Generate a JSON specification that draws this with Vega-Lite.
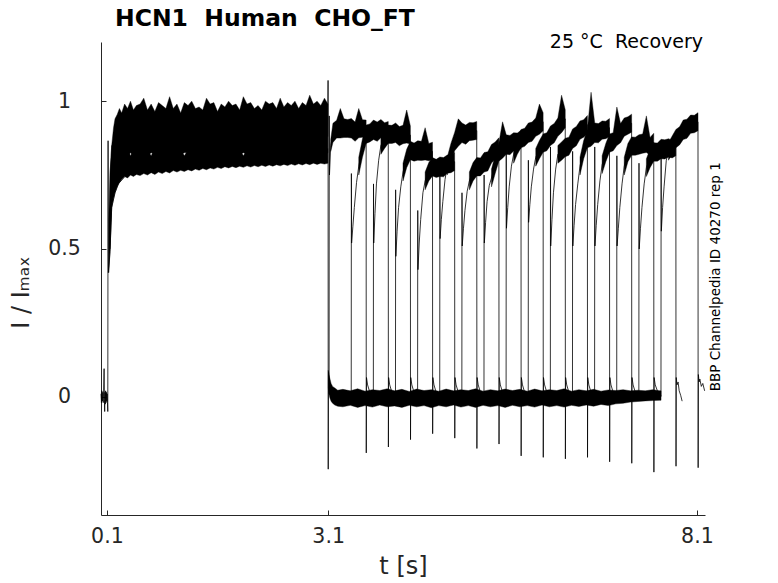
{
"$schema":"https://vega.github.io/schema/vega-lite/v6.json",
"width":604,"height":473,
"autosize":{"type":"none"},
"padding":{"left":101,"top":42,"right":73,"bottom":68},
"background":"white",
"config":{"view":{"stroke":null},"font":"DejaVu Sans"},
"title":{"text":"HCN1\u00a0 Human\u00a0 CHO_FT","anchor":"start","frame":"group","dx":14,"offset":3,"fontSize":23.5,"font":"DejaVu Sans","fontWeight":"bold","color":"black"},
"datasets":{
"lines":[
{"g":"p","t":0.02,"y":0.01},{"g":"p","t":0.026,"y":-0.02},{"g":"p","t":0.032,"y":0.02},{"g":"p","t":0.038,"y":-0.015},{"g":"p","t":0.044,"y":0.015},{"g":"p","t":0.05,"y":-0.02},{"g":"p","t":0.056,"y":0.02},{"g":"p","t":0.062,"y":0.095},{"g":"p","t":0.066,"y":-0.01},{"g":"p","t":0.07,"y":-0.05},{"g":"p","t":0.074,"y":0.015},{"g":"p","t":0.078,"y":-0.025},{"g":"p","t":0.083,"y":0.02},{"g":"p","t":0.088,"y":-0.02},{"g":"p","t":0.093,"y":0.015},{"g":"p","t":0.098,"y":-0.015},{"g":"p","t":0.103,"y":0.01},{"g":"p","t":0.108,"y":-0.02},{"g":"p","t":0.112,"y":-0.05},{"g":"p","t":0.116,"y":0.866},{"g":"p","t":0.12,"y":0.42},{"g":"p","t":0.142,"y":0.49},{"g":"p","t":0.165,"y":0.64},{"g":"p","t":0.21,"y":0.69},{"g":"p","t":0.255,"y":0.72},{"g":"p","t":0.345,"y":0.745},
{"g":"d","t":3.095,"y":0.88},{"g":"d","t":3.099,"y":1.07},{"g":"d","t":3.101,"y":-0.245},{"g":"d","t":3.104,"y":0.085},{"g":"d","t":3.12,"y":0.045},
{"g":"k0","t":3.113,"y":0.01},{"g":"k0","t":3.115,"y":0.95},{"g":"k0","t":3.118,"y":0.75},{"g":"k0","t":3.135,"y":0.85},{"g":"k0","t":3.165,"y":0.89},{"g":"k0","t":3.215,"y":0.905},{"g":"k0","t":3.315,"y":0.905},{"g":"k0","t":3.415,"y":0.905},{"g":"k0","t":3.515,"y":0.905},{"g":"k0","t":3.615,"y":0.905},{"g":"k0","t":3.617,"y":-0.19},{"g":"k0","t":3.62,"y":0.065},{"g":"k0","t":3.635,"y":0.04},{"g":"k0","t":3.665,"y":0.015},{"g":"k0","t":3.715,"y":0},
{"g":"k1","t":3.413,"y":0},{"g":"k1","t":3.415,"y":0.755},{"g":"k1","t":3.418,"y":0.52},{"g":"k1","t":3.435,"y":0.575},{"g":"k1","t":3.455,"y":0.64},{"g":"k1","t":3.485,"y":0.725},{"g":"k1","t":3.515,"y":0.78},{"g":"k1","t":3.565,"y":0.845},{"g":"k1","t":3.615,"y":0.885},{"g":"k1","t":3.715,"y":0.9},{"g":"k1","t":3.815,"y":0.905},{"g":"k1","t":3.915,"y":0.9},{"g":"k1","t":3.917,"y":-0.17},{"g":"k1","t":3.92,"y":0.065},{"g":"k1","t":3.935,"y":0.04},{"g":"k1","t":3.965,"y":0.015},{"g":"k1","t":4.015,"y":0},
{"g":"k2","t":3.713,"y":0},{"g":"k2","t":3.715,"y":0.72},{"g":"k2","t":3.718,"y":0.52},{"g":"k2","t":3.735,"y":0.62},{"g":"k2","t":3.755,"y":0.72},{"g":"k2","t":3.785,"y":0.8},{"g":"k2","t":3.815,"y":0.85},{"g":"k2","t":3.865,"y":0.875},{"g":"k2","t":3.915,"y":0.885},{"g":"k2","t":4.015,"y":0.89},{"g":"k2","t":4.115,"y":0.885},{"g":"k2","t":4.215,"y":0.885},{"g":"k2","t":4.217,"y":-0.145},{"g":"k2","t":4.22,"y":0.065},{"g":"k2","t":4.235,"y":0.04},{"g":"k2","t":4.265,"y":0.015},{"g":"k2","t":4.315,"y":0},
{"g":"k3","t":4.013,"y":0},{"g":"k3","t":4.015,"y":0.7},{"g":"k3","t":4.018,"y":0.475},{"g":"k3","t":4.035,"y":0.56},{"g":"k3","t":4.055,"y":0.64},{"g":"k3","t":4.085,"y":0.71},{"g":"k3","t":4.115,"y":0.76},{"g":"k3","t":4.165,"y":0.81},{"g":"k3","t":4.215,"y":0.83},{"g":"k3","t":4.315,"y":0.83},{"g":"k3","t":4.415,"y":0.83},{"g":"k3","t":4.515,"y":0.83},{"g":"k3","t":4.517,"y":-0.125},{"g":"k3","t":4.52,"y":0.065},{"g":"k3","t":4.535,"y":0.04},{"g":"k3","t":4.565,"y":0.015},{"g":"k3","t":4.615,"y":0},
{"g":"k4","t":4.313,"y":0},{"g":"k4","t":4.315,"y":0.63},{"g":"k4","t":4.318,"y":0.43},{"g":"k4","t":4.335,"y":0.52},{"g":"k4","t":4.355,"y":0.6},{"g":"k4","t":4.385,"y":0.69},{"g":"k4","t":4.415,"y":0.73},{"g":"k4","t":4.465,"y":0.765},{"g":"k4","t":4.515,"y":0.775},{"g":"k4","t":4.615,"y":0.775},{"g":"k4","t":4.715,"y":0.785},{"g":"k4","t":4.815,"y":0.795},{"g":"k4","t":4.817,"y":-0.14},{"g":"k4","t":4.82,"y":0.065},{"g":"k4","t":4.835,"y":0.04},{"g":"k4","t":4.865,"y":0.015},{"g":"k4","t":4.915,"y":0},
{"g":"k5","t":4.613,"y":0},{"g":"k5","t":4.615,"y":0.76},{"g":"k5","t":4.618,"y":0.535},{"g":"k5","t":4.635,"y":0.6},{"g":"k5","t":4.655,"y":0.66},{"g":"k5","t":4.685,"y":0.735},{"g":"k5","t":4.715,"y":0.78},{"g":"k5","t":4.765,"y":0.83},{"g":"k5","t":4.815,"y":0.86},{"g":"k5","t":4.915,"y":0.89},{"g":"k5","t":5.015,"y":0.895},{"g":"k5","t":5.115,"y":0.9},{"g":"k5","t":5.117,"y":-0.175},{"g":"k5","t":5.12,"y":0.065},{"g":"k5","t":5.135,"y":0.04},{"g":"k5","t":5.165,"y":0.015},{"g":"k5","t":5.215,"y":0},
{"g":"k6","t":4.913,"y":0},{"g":"k6","t":4.915,"y":0.69},{"g":"k6","t":4.918,"y":0.51},{"g":"k6","t":4.935,"y":0.57},{"g":"k6","t":4.955,"y":0.63},{"g":"k6","t":4.985,"y":0.695},{"g":"k6","t":5.015,"y":0.73},{"g":"k6","t":5.065,"y":0.765},{"g":"k6","t":5.115,"y":0.775},{"g":"k6","t":5.215,"y":0.79},{"g":"k6","t":5.315,"y":0.82},{"g":"k6","t":5.415,"y":0.845},{"g":"k6","t":5.417,"y":-0.16},{"g":"k6","t":5.42,"y":0.065},{"g":"k6","t":5.435,"y":0.04},{"g":"k6","t":5.465,"y":0.015},{"g":"k6","t":5.515,"y":0},
{"g":"k7","t":5.213,"y":0},{"g":"k7","t":5.215,"y":0.75},{"g":"k7","t":5.218,"y":0.52},{"g":"k7","t":5.235,"y":0.59},{"g":"k7","t":5.255,"y":0.66},{"g":"k7","t":5.285,"y":0.715},{"g":"k7","t":5.315,"y":0.74},{"g":"k7","t":5.365,"y":0.79},{"g":"k7","t":5.415,"y":0.825},{"g":"k7","t":5.515,"y":0.85},{"g":"k7","t":5.615,"y":0.86},{"g":"k7","t":5.715,"y":0.87},{"g":"k7","t":5.717,"y":-0.2},{"g":"k7","t":5.72,"y":0.065},{"g":"k7","t":5.735,"y":0.04},{"g":"k7","t":5.765,"y":0.015},{"g":"k7","t":5.815,"y":0},
{"g":"k8","t":5.513,"y":0},{"g":"k8","t":5.515,"y":0.83},{"g":"k8","t":5.518,"y":0.57},{"g":"k8","t":5.535,"y":0.64},{"g":"k8","t":5.555,"y":0.71},{"g":"k8","t":5.585,"y":0.78},{"g":"k8","t":5.615,"y":0.82},{"g":"k8","t":5.665,"y":0.855},{"g":"k8","t":5.715,"y":0.87},{"g":"k8","t":5.815,"y":0.89},{"g":"k8","t":5.915,"y":0.91},{"g":"k8","t":6.015,"y":0.93},{"g":"k8","t":6.017,"y":-0.205},{"g":"k8","t":6.02,"y":0.065},{"g":"k8","t":6.035,"y":0.04},{"g":"k8","t":6.065,"y":0.015},{"g":"k8","t":6.115,"y":0},
{"g":"k9","t":5.813,"y":0},{"g":"k9","t":5.815,"y":0.8},{"g":"k9","t":5.818,"y":0.59},{"g":"k9","t":5.835,"y":0.65},{"g":"k9","t":5.855,"y":0.71},{"g":"k9","t":5.885,"y":0.77},{"g":"k9","t":5.915,"y":0.81},{"g":"k9","t":5.965,"y":0.84},{"g":"k9","t":6.015,"y":0.855},{"g":"k9","t":6.115,"y":0.88},{"g":"k9","t":6.215,"y":0.91},{"g":"k9","t":6.315,"y":0.94},{"g":"k9","t":6.317,"y":-0.21},{"g":"k9","t":6.32,"y":0.065},{"g":"k9","t":6.335,"y":0.04},{"g":"k9","t":6.365,"y":0.015},{"g":"k9","t":6.415,"y":0},
{"g":"k10","t":6.113,"y":0},{"g":"k10","t":6.115,"y":0.845},{"g":"k10","t":6.118,"y":0.51},{"g":"k10","t":6.135,"y":0.6},{"g":"k10","t":6.155,"y":0.69},{"g":"k10","t":6.185,"y":0.77},{"g":"k10","t":6.215,"y":0.82},{"g":"k10","t":6.265,"y":0.835},{"g":"k10","t":6.315,"y":0.84},{"g":"k10","t":6.415,"y":0.87},{"g":"k10","t":6.515,"y":0.9},{"g":"k10","t":6.615,"y":0.92},{"g":"k10","t":6.617,"y":-0.205},{"g":"k10","t":6.62,"y":0.065},{"g":"k10","t":6.635,"y":0.04},{"g":"k10","t":6.665,"y":0.015},{"g":"k10","t":6.715,"y":0},
{"g":"k11","t":6.413,"y":0},{"g":"k11","t":6.415,"y":0.83},{"g":"k11","t":6.418,"y":0.51},{"g":"k11","t":6.435,"y":0.58},{"g":"k11","t":6.455,"y":0.65},{"g":"k11","t":6.485,"y":0.72},{"g":"k11","t":6.515,"y":0.78},{"g":"k11","t":6.565,"y":0.84},{"g":"k11","t":6.615,"y":0.87},{"g":"k11","t":6.715,"y":0.89},{"g":"k11","t":6.815,"y":0.9},{"g":"k11","t":6.915,"y":0.91},{"g":"k11","t":6.917,"y":-0.22},{"g":"k11","t":6.92,"y":0.065},{"g":"k11","t":6.935,"y":0.04},{"g":"k11","t":6.965,"y":0.015},{"g":"k11","t":7.015,"y":0},
{"g":"k12","t":6.713,"y":0},{"g":"k12","t":6.715,"y":0.845},{"g":"k12","t":6.718,"y":0.51},{"g":"k12","t":6.735,"y":0.58},{"g":"k12","t":6.755,"y":0.65},{"g":"k12","t":6.785,"y":0.73},{"g":"k12","t":6.815,"y":0.785},{"g":"k12","t":6.865,"y":0.83},{"g":"k12","t":6.915,"y":0.855},{"g":"k12","t":7.015,"y":0.88},{"g":"k12","t":7.115,"y":0.91},{"g":"k12","t":7.215,"y":0.925},{"g":"k12","t":7.217,"y":-0.225},{"g":"k12","t":7.22,"y":0.065},{"g":"k12","t":7.235,"y":0.04},{"g":"k12","t":7.265,"y":0.015},{"g":"k12","t":7.315,"y":0},
{"g":"k13","t":7.013,"y":0},{"g":"k13","t":7.015,"y":0.815},{"g":"k13","t":7.018,"y":0.51},{"g":"k13","t":7.035,"y":0.57},{"g":"k13","t":7.055,"y":0.64},{"g":"k13","t":7.085,"y":0.72},{"g":"k13","t":7.115,"y":0.78},{"g":"k13","t":7.165,"y":0.83},{"g":"k13","t":7.215,"y":0.845},{"g":"k13","t":7.315,"y":0.85},{"g":"k13","t":7.415,"y":0.855},{"g":"k13","t":7.515,"y":0.86},{"g":"k13","t":7.517,"y":-0.255},{"g":"k13","t":7.52,"y":0.065},{"g":"k13","t":7.535,"y":0.04},{"g":"k13","t":7.565,"y":0.02},{"g":"k13","t":7.615,"y":0.005},
{"g":"k14","t":7.313,"y":0},{"g":"k14","t":7.315,"y":0.79},{"g":"k14","t":7.318,"y":0.5},{"g":"k14","t":7.335,"y":0.57},{"g":"k14","t":7.355,"y":0.64},{"g":"k14","t":7.385,"y":0.72},{"g":"k14","t":7.415,"y":0.775},{"g":"k14","t":7.465,"y":0.81},{"g":"k14","t":7.515,"y":0.825},{"g":"k14","t":7.615,"y":0.835},{"g":"k14","t":7.715,"y":0.84},{"g":"k14","t":7.815,"y":0.845},{"g":"k14","t":7.817,"y":-0.235},{"g":"k14","t":7.82,"y":0.065},{"g":"k14","t":7.83,"y":0.04},{"g":"k14","t":7.845,"y":0.05},{"g":"k14","t":7.86,"y":0.02},{"g":"k14","t":7.88,"y":0.005},{"g":"k14","t":7.9,"y":-0.015},
{"g":"k15","t":7.613,"y":0},{"g":"k15","t":7.615,"y":0.83},{"g":"k15","t":7.618,"y":0.56},{"g":"k15","t":7.635,"y":0.64},{"g":"k15","t":7.655,"y":0.71},{"g":"k15","t":7.685,"y":0.8},{"g":"k15","t":7.715,"y":0.83},{"g":"k15","t":7.765,"y":0.855},{"g":"k15","t":7.815,"y":0.87},{"g":"k15","t":7.915,"y":0.9},{"g":"k15","t":8.015,"y":0.92},{"g":"k15","t":8.115,"y":0.93},{"g":"k15","t":8.117,"y":-0.24},{"g":"k15","t":8.12,"y":0.075},{"g":"k15","t":8.13,"y":0.05},{"g":"k15","t":8.14,"y":0.06},{"g":"k15","t":8.16,"y":0.035},{"g":"k15","t":8.18,"y":0.045},{"g":"k15","t":8.205,"y":0.02}
],
"areas":[
{"g":"A1","t":0.125,"y":0.42,"y2":0.6},{"g":"A1","t":0.142,"y":0.49,"y2":0.75},{"g":"A1","t":0.165,"y":0.64,"y2":0.85},{"g":"A1","t":0.19,"y":0.67,"y2":0.84},{"g":"A1","t":0.21,"y":0.69,"y2":0.835},{"g":"A1","t":0.24,"y":0.71,"y2":0.84},{"g":"A1","t":0.27,"y":0.725,"y2":0.83},{"g":"A1","t":0.3,"y":0.735,"y2":0.84},{"g":"A1","t":0.34,"y":0.745,"y2":0.835},{"g":"A1","t":0.38,"y":0.74,"y2":0.84},{"g":"A1","t":0.42,"y":0.75,"y2":0.815},{"g":"A1","t":0.46,"y":0.745,"y2":0.835},{"g":"A1","t":0.5,"y":0.752,"y2":0.84},{"g":"A1","t":0.55,"y":0.748,"y2":0.83},{"g":"A1","t":0.6,"y":0.755,"y2":0.84},{"g":"A1","t":0.65,"y":0.75,"y2":0.835},{"g":"A1","t":0.7,"y":0.758,"y2":0.815},{"g":"A1","t":0.75,"y":0.752,"y2":0.84},{"g":"A1","t":0.8,"y":0.76,"y2":0.835},{"g":"A1","t":0.85,"y":0.755,"y2":0.84},{"g":"A1","t":0.9,"y":0.762,"y2":0.835},{"g":"A1","t":0.95,"y":0.757,"y2":0.835},{"g":"A1","t":1.0,"y":0.765,"y2":0.84},{"g":"A1","t":1.05,"y":0.76,"y2":0.83},{"g":"A1","t":1.1,"y":0.766,"y2":0.84},{"g":"A1","t":1.15,"y":0.762,"y2":0.815},{"g":"A1","t":1.2,"y":0.768,"y2":0.835},{"g":"A1","t":1.25,"y":0.764,"y2":0.84},{"g":"A1","t":1.3,"y":0.77,"y2":0.83},{"g":"A1","t":1.35,"y":0.766,"y2":0.84},{"g":"A1","t":1.4,"y":0.772,"y2":0.835},{"g":"A1","t":1.45,"y":0.768,"y2":0.835},{"g":"A1","t":1.5,"y":0.774,"y2":0.84},{"g":"A1","t":1.55,"y":0.77,"y2":0.835},{"g":"A1","t":1.6,"y":0.776,"y2":0.84},{"g":"A1","t":1.65,"y":0.772,"y2":0.83},{"g":"A1","t":1.7,"y":0.778,"y2":0.84},{"g":"A1","t":1.75,"y":0.774,"y2":0.835},{"g":"A1","t":1.8,"y":0.779,"y2":0.84},{"g":"A1","t":1.85,"y":0.775,"y2":0.83},{"g":"A1","t":1.9,"y":0.78,"y2":0.84},{"g":"A1","t":1.95,"y":0.776,"y2":0.815},{"g":"A1","t":2.0,"y":0.781,"y2":0.835},{"g":"A1","t":2.05,"y":0.777,"y2":0.84},{"g":"A1","t":2.1,"y":0.782,"y2":0.83},{"g":"A1","t":2.15,"y":0.778,"y2":0.84},{"g":"A1","t":2.2,"y":0.783,"y2":0.835},{"g":"A1","t":2.25,"y":0.779,"y2":0.84},{"g":"A1","t":2.3,"y":0.784,"y2":0.83},{"g":"A1","t":2.35,"y":0.78,"y2":0.84},{"g":"A1","t":2.4,"y":0.785,"y2":0.84},{"g":"A1","t":2.45,"y":0.781,"y2":0.835},{"g":"A1","t":2.5,"y":0.786,"y2":0.84},{"g":"A1","t":2.55,"y":0.782,"y2":0.83},{"g":"A1","t":2.6,"y":0.787,"y2":0.84},{"g":"A1","t":2.65,"y":0.783,"y2":0.835},{"g":"A1","t":2.7,"y":0.788,"y2":0.84},{"g":"A1","t":2.75,"y":0.784,"y2":0.83},{"g":"A1","t":2.8,"y":0.789,"y2":0.84},{"g":"A1","t":2.85,"y":0.785,"y2":0.835},{"g":"A1","t":2.9,"y":0.79,"y2":0.84},{"g":"A1","t":2.95,"y":0.786,"y2":0.83},{"g":"A1","t":3.0,"y":0.79,"y2":0.84},{"g":"A1","t":3.05,"y":0.787,"y2":0.835},{"g":"A1","t":3.097,"y":0.79,"y2":0.84},
{"g":"A2","t":0.142,"y":0.5,"y2":0.75},{"g":"A2","t":0.165,"y":0.65,"y2":0.85},{"g":"A2","t":0.19,"y":0.72,"y2":0.91},{"g":"A2","t":0.21,"y":0.75,"y2":0.94},{"g":"A2","t":0.24,"y":0.77,"y2":0.955},{"g":"A2","t":0.27,"y":0.79,"y2":0.975},{"g":"A2","t":0.3,"y":0.8,"y2":0.96},{"g":"A2","t":0.34,"y":0.81,"y2":0.99},{"g":"A2","t":0.38,"y":0.815,"y2":0.975},{"g":"A2","t":0.42,"y":0.825,"y2":1.0},{"g":"A2","t":0.46,"y":0.815,"y2":0.97},{"g":"A2","t":0.5,"y":0.82,"y2":0.985},{"g":"A2","t":0.55,"y":0.825,"y2":0.99},{"g":"A2","t":0.6,"y":0.82,"y2":1.01},{"g":"A2","t":0.65,"y":0.815,"y2":0.97},{"g":"A2","t":0.7,"y":0.825,"y2":0.99},{"g":"A2","t":0.75,"y":0.82,"y2":0.965},{"g":"A2","t":0.8,"y":0.825,"y2":0.995},{"g":"A2","t":0.85,"y":0.815,"y2":0.985},{"g":"A2","t":0.9,"y":0.83,"y2":0.975},{"g":"A2","t":0.95,"y":0.82,"y2":1.015},{"g":"A2","t":1.0,"y":0.825,"y2":0.975},{"g":"A2","t":1.05,"y":0.815,"y2":0.99},{"g":"A2","t":1.1,"y":0.82,"y2":0.96},{"g":"A2","t":1.15,"y":0.825,"y2":0.995},{"g":"A2","t":1.2,"y":0.825,"y2":0.985},{"g":"A2","t":1.25,"y":0.82,"y2":1.0},{"g":"A2","t":1.3,"y":0.815,"y2":0.975},{"g":"A2","t":1.35,"y":0.82,"y2":0.98},{"g":"A2","t":1.4,"y":0.825,"y2":0.97},{"g":"A2","t":1.45,"y":0.83,"y2":1.01},{"g":"A2","t":1.5,"y":0.82,"y2":0.99},{"g":"A2","t":1.55,"y":0.825,"y2":0.995},{"g":"A2","t":1.6,"y":0.82,"y2":0.965},{"g":"A2","t":1.65,"y":0.815,"y2":0.99},{"g":"A2","t":1.7,"y":0.825,"y2":0.98},{"g":"A2","t":1.75,"y":0.82,"y2":1.0},{"g":"A2","t":1.8,"y":0.825,"y2":0.985},{"g":"A2","t":1.85,"y":0.815,"y2":0.99},{"g":"A2","t":1.9,"y":0.82,"y2":0.97},{"g":"A2","t":1.95,"y":0.825,"y2":1.015},{"g":"A2","t":2.0,"y":0.82,"y2":0.99},{"g":"A2","t":2.05,"y":0.825,"y2":0.995},{"g":"A2","t":2.1,"y":0.815,"y2":0.975},{"g":"A2","t":2.15,"y":0.82,"y2":0.985},{"g":"A2","t":2.2,"y":0.825,"y2":0.97},{"g":"A2","t":2.25,"y":0.82,"y2":1.0},{"g":"A2","t":2.3,"y":0.815,"y2":0.99},{"g":"A2","t":2.35,"y":0.83,"y2":0.995},{"g":"A2","t":2.4,"y":0.82,"y2":0.975},{"g":"A2","t":2.45,"y":0.825,"y2":1.01},{"g":"A2","t":2.5,"y":0.82,"y2":0.98},{"g":"A2","t":2.55,"y":0.815,"y2":0.995},{"g":"A2","t":2.6,"y":0.825,"y2":0.985},{"g":"A2","t":2.65,"y":0.82,"y2":1.0},{"g":"A2","t":2.7,"y":0.825,"y2":0.975},{"g":"A2","t":2.75,"y":0.815,"y2":0.995},{"g":"A2","t":2.8,"y":0.82,"y2":0.985},{"g":"A2","t":2.85,"y":0.825,"y2":1.02},{"g":"A2","t":2.9,"y":0.82,"y2":0.99},{"g":"A2","t":2.95,"y":0.815,"y2":1.0},{"g":"A2","t":3.0,"y":0.825,"y2":0.985},{"g":"A2","t":3.05,"y":0.82,"y2":1.01},{"g":"A2","t":3.097,"y":0.825,"y2":0.99},
{"g":"B","t":3.102,"y":0.03,"y2":0.09},{"g":"B","t":3.11,"y":0.01,"y2":0.075},{"g":"B","t":3.125,"y":-0.005,"y2":0.06},{"g":"B","t":3.14,"y":-0.015,"y2":0.045},{"g":"B","t":3.16,"y":-0.022,"y2":0.035},{"g":"B","t":3.19,"y":-0.028,"y2":0.03},{"g":"B","t":3.23,"y":-0.032,"y2":0.022},{"g":"B","t":3.3,"y":-0.034,"y2":0.025},{"g":"B","t":3.4,"y":-0.029,"y2":0.02},{"g":"B","t":3.5,"y":-0.036,"y2":0.027},{"g":"B","t":3.6,"y":-0.03,"y2":0.019},{"g":"B","t":3.7,"y":-0.035,"y2":0.024},{"g":"B","t":3.8,"y":-0.028,"y2":0.021},{"g":"B","t":3.9,"y":-0.034,"y2":0.027},{"g":"B","t":4.0,"y":-0.031,"y2":0.02},{"g":"B","t":4.1,"y":-0.036,"y2":0.025},{"g":"B","t":4.2,"y":-0.029,"y2":0.018},{"g":"B","t":4.3,"y":-0.034,"y2":0.026},{"g":"B","t":4.4,"y":-0.03,"y2":0.021},{"g":"B","t":4.5,"y":-0.037,"y2":0.024},{"g":"B","t":4.6,"y":-0.03,"y2":0.019},{"g":"B","t":4.7,"y":-0.034,"y2":0.026},{"g":"B","t":4.8,"y":-0.028,"y2":0.02},{"g":"B","t":4.9,"y":-0.035,"y2":0.024},{"g":"B","t":5.0,"y":-0.03,"y2":0.021},{"g":"B","t":5.1,"y":-0.036,"y2":0.027},{"g":"B","t":5.2,"y":-0.029,"y2":0.019},{"g":"B","t":5.3,"y":-0.034,"y2":0.024},{"g":"B","t":5.4,"y":-0.03,"y2":0.02},{"g":"B","t":5.5,"y":-0.036,"y2":0.026},{"g":"B","t":5.6,"y":-0.029,"y2":0.021},{"g":"B","t":5.7,"y":-0.034,"y2":0.025},{"g":"B","t":5.8,"y":-0.03,"y2":0.019},{"g":"B","t":5.9,"y":-0.035,"y2":0.026},{"g":"B","t":6.0,"y":-0.028,"y2":0.02},{"g":"B","t":6.1,"y":-0.034,"y2":0.024},{"g":"B","t":6.2,"y":-0.03,"y2":0.021},{"g":"B","t":6.3,"y":-0.035,"y2":0.027},{"g":"B","t":6.4,"y":-0.029,"y2":0.019},{"g":"B","t":6.5,"y":-0.033,"y2":0.024},{"g":"B","t":6.6,"y":-0.028,"y2":0.02},{"g":"B","t":6.7,"y":-0.032,"y2":0.025},{"g":"B","t":6.8,"y":-0.026,"y2":0.019},{"g":"B","t":6.9,"y":-0.03,"y2":0.023},{"g":"B","t":7.0,"y":-0.024,"y2":0.021},{"g":"B","t":7.1,"y":-0.022,"y2":0.024},{"g":"B","t":7.2,"y":-0.018,"y2":0.02},{"g":"B","t":7.3,"y":-0.016,"y2":0.022},{"g":"B","t":7.4,"y":-0.014,"y2":0.02},{"g":"B","t":7.5,"y":-0.013,"y2":0.024},{"g":"B","t":7.6,"y":-0.012,"y2":0.02},{"g":"B","t":7.614,"y":-0.012,"y2":0.02},
{"g":"P0","t":3.135,"y":0.83,"y2":0.87},{"g":"P0","t":3.165,"y":0.86,"y2":0.925},{"g":"P0","t":3.215,"y":0.875,"y2":0.935},{"g":"P0","t":3.265,"y":0.875,"y2":0.975},{"g":"P0","t":3.315,"y":0.877,"y2":0.94},{"g":"P0","t":3.365,"y":0.877,"y2":0.938},{"g":"P0","t":3.415,"y":0.875,"y2":0.941},{"g":"P0","t":3.465,"y":0.864,"y2":0.929},{"g":"P0","t":3.515,"y":0.876,"y2":0.975},{"g":"P0","t":3.565,"y":0.878,"y2":0.937},{"g":"P0","t":3.615,"y":0.875,"y2":0.936},
{"g":"P1","t":3.515,"y":0.75,"y2":0.81},{"g":"P1","t":3.565,"y":0.81,"y2":0.872},{"g":"P1","t":3.615,"y":0.857,"y2":0.919},{"g":"P1","t":3.665,"y":0.862,"y2":0.923},{"g":"P1","t":3.715,"y":0.87,"y2":0.936},{"g":"P1","t":3.765,"y":0.864,"y2":0.929},{"g":"P1","t":3.815,"y":0.876,"y2":0.938},{"g":"P1","t":3.865,"y":0.868,"y2":0.927},{"g":"P1","t":3.915,"y":0.87,"y2":0.931},
{"g":"P2","t":3.815,"y":0.82,"y2":0.88},{"g":"P2","t":3.865,"y":0.84,"y2":0.902},{"g":"P2","t":3.915,"y":0.857,"y2":0.919},{"g":"P2","t":3.965,"y":0.857,"y2":0.918},{"g":"P2","t":4.015,"y":0.86,"y2":0.926},{"g":"P2","t":4.065,"y":0.849,"y2":0.914},{"g":"P2","t":4.115,"y":0.856,"y2":0.918},{"g":"P2","t":4.165,"y":0.858,"y2":0.97},{"g":"P2","t":4.215,"y":0.855,"y2":0.916},
{"g":"P3","t":4.115,"y":0.73,"y2":0.79},{"g":"P3","t":4.165,"y":0.775,"y2":0.837},{"g":"P3","t":4.215,"y":0.802,"y2":0.864},{"g":"P3","t":4.265,"y":0.797,"y2":0.858},{"g":"P3","t":4.315,"y":0.8,"y2":0.866},{"g":"P3","t":4.365,"y":0.799,"y2":0.864},{"g":"P3","t":4.415,"y":0.801,"y2":0.91},{"g":"P3","t":4.465,"y":0.798,"y2":0.857},{"g":"P3","t":4.515,"y":0.8,"y2":0.861},
{"g":"P4","t":4.415,"y":0.7,"y2":0.76},{"g":"P4","t":4.465,"y":0.73,"y2":0.792},{"g":"P4","t":4.515,"y":0.747,"y2":0.809},{"g":"P4","t":4.565,"y":0.742,"y2":0.803},{"g":"P4","t":4.615,"y":0.745,"y2":0.811},{"g":"P4","t":4.665,"y":0.744,"y2":0.809},{"g":"P4","t":4.715,"y":0.756,"y2":0.818},{"g":"P4","t":4.765,"y":0.758,"y2":0.817},{"g":"P4","t":4.815,"y":0.765,"y2":0.826},
{"g":"P5","t":4.715,"y":0.75,"y2":0.81},{"g":"P5","t":4.765,"y":0.795,"y2":0.857},{"g":"P5","t":4.815,"y":0.832,"y2":0.894},{"g":"P5","t":4.865,"y":0.847,"y2":0.94},{"g":"P5","t":4.915,"y":0.86,"y2":0.926},{"g":"P5","t":4.965,"y":0.854,"y2":0.919},{"g":"P5","t":5.015,"y":0.866,"y2":0.928},{"g":"P5","t":5.065,"y":0.868,"y2":0.927},{"g":"P5","t":5.115,"y":0.87,"y2":0.931},
{"g":"P6","t":5.015,"y":0.7,"y2":0.76},{"g":"P6","t":5.065,"y":0.73,"y2":0.792},{"g":"P6","t":5.115,"y":0.747,"y2":0.809},{"g":"P6","t":5.165,"y":0.747,"y2":0.808},{"g":"P6","t":5.215,"y":0.76,"y2":0.826},{"g":"P6","t":5.265,"y":0.764,"y2":0.829},{"g":"P6","t":5.315,"y":0.791,"y2":0.853},{"g":"P6","t":5.365,"y":0.803,"y2":0.862},{"g":"P6","t":5.415,"y":0.815,"y2":0.876},
{"g":"P7","t":5.315,"y":0.71,"y2":0.77},{"g":"P7","t":5.365,"y":0.755,"y2":0.817},{"g":"P7","t":5.415,"y":0.797,"y2":0.859},{"g":"P7","t":5.465,"y":0.807,"y2":0.93},{"g":"P7","t":5.515,"y":0.82,"y2":0.886},{"g":"P7","t":5.565,"y":0.819,"y2":0.884},{"g":"P7","t":5.615,"y":0.831,"y2":0.893},{"g":"P7","t":5.665,"y":0.833,"y2":0.892},{"g":"P7","t":5.715,"y":0.84,"y2":0.901},
{"g":"P8","t":5.615,"y":0.79,"y2":0.85},{"g":"P8","t":5.665,"y":0.82,"y2":0.882},{"g":"P8","t":5.715,"y":0.842,"y2":0.904},{"g":"P8","t":5.765,"y":0.847,"y2":0.908},{"g":"P8","t":5.815,"y":0.86,"y2":0.926},{"g":"P8","t":5.865,"y":0.864,"y2":0.929},{"g":"P8","t":5.915,"y":0.881,"y2":0.943},{"g":"P8","t":5.965,"y":0.888,"y2":0.99},{"g":"P8","t":6.015,"y":0.9,"y2":0.961},
{"g":"P9","t":5.915,"y":0.78,"y2":0.84},{"g":"P9","t":5.965,"y":0.805,"y2":0.867},{"g":"P9","t":6.015,"y":0.827,"y2":0.889},{"g":"P9","t":6.065,"y":0.832,"y2":0.893},{"g":"P9","t":6.115,"y":0.85,"y2":0.916},{"g":"P9","t":6.165,"y":0.859,"y2":0.924},{"g":"P9","t":6.215,"y":0.881,"y2":0.943},{"g":"P9","t":6.265,"y":0.893,"y2":1.02},{"g":"P9","t":6.315,"y":0.91,"y2":0.971},
{"g":"P10","t":6.215,"y":0.79,"y2":0.85},{"g":"P10","t":6.265,"y":0.8,"y2":0.862},{"g":"P10","t":6.315,"y":0.812,"y2":0.874},{"g":"P10","t":6.365,"y":0.817,"y2":0.878},{"g":"P10","t":6.415,"y":0.84,"y2":0.906},{"g":"P10","t":6.465,"y":0.849,"y2":0.914},{"g":"P10","t":6.515,"y":0.871,"y2":0.933},{"g":"P10","t":6.565,"y":0.878,"y2":0.937},{"g":"P10","t":6.615,"y":0.89,"y2":0.951},
{"g":"P11","t":6.515,"y":0.75,"y2":0.81},{"g":"P11","t":6.565,"y":0.805,"y2":0.867},{"g":"P11","t":6.615,"y":0.842,"y2":0.904},{"g":"P11","t":6.665,"y":0.847,"y2":1.03},{"g":"P11","t":6.715,"y":0.86,"y2":0.926},{"g":"P11","t":6.765,"y":0.859,"y2":0.924},{"g":"P11","t":6.815,"y":0.871,"y2":0.933},{"g":"P11","t":6.865,"y":0.873,"y2":0.932},{"g":"P11","t":6.915,"y":0.88,"y2":0.941},
{"g":"P12","t":6.815,"y":0.755,"y2":0.815},{"g":"P12","t":6.865,"y":0.795,"y2":0.857},{"g":"P12","t":6.915,"y":0.827,"y2":0.889},{"g":"P12","t":6.965,"y":0.832,"y2":0.893},{"g":"P12","t":7.015,"y":0.85,"y2":0.98},{"g":"P12","t":7.065,"y":0.859,"y2":0.924},{"g":"P12","t":7.115,"y":0.881,"y2":0.943},{"g":"P12","t":7.165,"y":0.888,"y2":0.947},{"g":"P12","t":7.215,"y":0.895,"y2":0.956},
{"g":"P13","t":7.115,"y":0.75,"y2":0.81},{"g":"P13","t":7.165,"y":0.795,"y2":0.857},{"g":"P13","t":7.215,"y":0.817,"y2":0.879},{"g":"P13","t":7.265,"y":0.817,"y2":0.878},{"g":"P13","t":7.315,"y":0.82,"y2":0.886},{"g":"P13","t":7.365,"y":0.824,"y2":0.889},{"g":"P13","t":7.415,"y":0.826,"y2":0.95},{"g":"P13","t":7.465,"y":0.818,"y2":0.877},{"g":"P13","t":7.515,"y":0.83,"y2":0.891},
{"g":"P14","t":7.415,"y":0.745,"y2":0.805},{"g":"P14","t":7.465,"y":0.775,"y2":0.837},{"g":"P14","t":7.515,"y":0.797,"y2":0.859},{"g":"P14","t":7.565,"y":0.797,"y2":0.858},{"g":"P14","t":7.615,"y":0.805,"y2":0.871},{"g":"P14","t":7.665,"y":0.804,"y2":0.869},{"g":"P14","t":7.715,"y":0.811,"y2":0.873},{"g":"P14","t":7.765,"y":0.808,"y2":0.867},{"g":"P14","t":7.815,"y":0.815,"y2":0.876},
{"g":"P15","t":7.715,"y":0.8,"y2":0.86},{"g":"P15","t":7.765,"y":0.82,"y2":0.882},{"g":"P15","t":7.815,"y":0.842,"y2":0.904},{"g":"P15","t":7.865,"y":0.852,"y2":0.913},{"g":"P15","t":7.915,"y":0.87,"y2":0.936},{"g":"P15","t":7.965,"y":0.874,"y2":0.939},{"g":"P15","t":8.015,"y":0.891,"y2":0.953},{"g":"P15","t":8.065,"y":0.893,"y2":0.952},{"g":"P15","t":8.115,"y":0.9,"y2":0.961}
]
},
"encoding":{
"x":{"field":"t","type":"quantitative","scale":{"domain":[0.02,8.21],"nice":false,"zero":false},
 "axis":{"values":[0.1,3.1,8.1],"format":".1f","title":"t [s]","grid":false,"tickSize":-5,"labelFontSize":20.5,"titleFontSize":24,"labelFont":"DejaVu Sans","titleFont":"DejaVu Sans","titleFontWeight":"normal","labelColor":"#262626","titleColor":"#262626","domainColor":"#262626","tickColor":"#262626","labelPadding":16,"titlePadding":8,"labelFlush":false}},
"y":{"field":"y","type":"quantitative","scale":{"domain":[-0.4,1.2],"nice":false,"zero":false},
 "axis":{"values":[0,0.5,1],"format":"~g","title":"I / Iₘₐₓ","titleY":250,"grid":false,"tickSize":-5,"labelFontSize":20.5,"titleFontSize":24,"labelFont":"DejaVu Sans","titleFont":"DejaVu Sans","titleFontWeight":"normal","labelColor":"#262626","titleColor":"#262626","domainColor":"#262626","tickColor":"#262626","labelAlign":"center","labelPadding":42,"titlePadding":14,"labelFlush":false}}
},
"layer":[
{"data":{"name":"areas"},"mark":{"type":"area","color":"black","stroke":"black","strokeWidth":0.4},"encoding":{"y2":{"field":"y2"},"detail":{"field":"g"}}},
{"data":{"name":"lines"},"mark":{"type":"line","color":"black","strokeWidth":0.8},"encoding":{"detail":{"field":"g"}}},
{"data":{"values":[{"t":8.183,"y":1.2,"s":"25 °C\u00a0 Recovery"}]},"mark":{"type":"text","align":"right","baseline":"middle","fontSize":19,"font":"DejaVu Sans","color":"black"},"encoding":{"text":{"field":"s"}}},
{"data":{"values":[{"t":8.36,"y":0.406,"s":"BBP Channelpedia ID 40270 rep 1"}]},"mark":{"type":"text","align":"center","baseline":"middle","angle":270,"fontSize":13.5,"font":"DejaVu Sans","color":"black"},"encoding":{"text":{"field":"s"}}}
]
}
